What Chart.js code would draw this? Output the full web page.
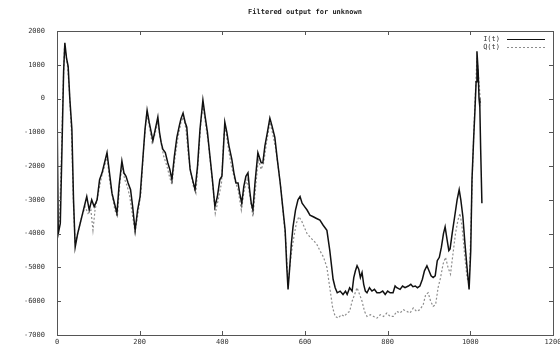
<!DOCTYPE html>
<html>
<head>
<meta charset="utf-8">
<script src="https://cdn.jsdelivr.net/npm/chart.js@4"></script>
<style>
  html, body { margin: 0; padding: 0; background: #fff; }
  #wrap { width: 560px; height: 347px; }
</style>
</head>
<body>
<div id="wrap"><canvas id="filterChart"></canvas></div>
<script>
const chartTitle = "Filtered output for unknown";
const seriesNames = ["I(t)", "Q(t)"];
const xTicks = [0, 200, 400, 600, 800, 1000, 1200];
const yTicks = [2000, 1000, 0, -1000, -2000, -3000, -4000, -5000, -6000, -7000];

// I(t) samples
const iX = [0,3,8,12,16,19,23,27,31,36,40,44,50,56,62,68,72,78,84,90,97,103,109,115,121,125,128,133,139,145,150,157,162,167,172,178,183,189,195,201,207,213,218,223,228,232,238,244,248,252,256,262,268,273,278,284,290,296,300,305,310,314,318,322,328,334,340,346,353,358,364,370,376,382,388,394,399,403,406,411,416,423,428,433,438,442,447,452,457,462,466,470,474,479,486,490,494,498,503,509,515,520,527,533,540,546,552,556,559,563,567,571,577,583,588,593,599,605,612,620,628,636,644,653,660,668,673,678,685,692,698,702,708,714,718,722,726,730,734,738,742,746,750,756,762,768,774,781,788,794,800,806,813,818,822,830,836,842,850,856,861,867,872,878,884,889,895,900,905,910,915,920,925,930,935,939,944,948,951,956,962,968,973,977,982,987,992,997,1001,1004,1008,1011,1014,1016,1019,1021,1023,1025,1028];
const iY = [0,-4000,-3700,-1500,800,1650,1200,950,0,-900,-3000,-4400,-4000,-3700,-3400,-3100,-2900,-3300,-3000,-3200,-3000,-2400,-2200,-1900,-1600,-2000,-2300,-2800,-3100,-3400,-2600,-1850,-2200,-2300,-2500,-2700,-3200,-3900,-3300,-2900,-1900,-900,-350,-700,-1000,-1250,-900,-550,-1000,-1300,-1500,-1600,-1900,-2100,-2400,-1700,-1150,-800,-600,-430,-700,-850,-1500,-2100,-2400,-2700,-2000,-900,-50,-500,-1000,-1700,-2400,-3200,-2900,-2400,-2300,-1400,-700,-1000,-1400,-1800,-2200,-2500,-2500,-2800,-3100,-2600,-2300,-2200,-2700,-3100,-3300,-2500,-1600,-1750,-1900,-1900,-1400,-1000,-580,-800,-1150,-1800,-2500,-3200,-3900,-5000,-5650,-5000,-4300,-3800,-3300,-3000,-2900,-3100,-3200,-3300,-3450,-3500,-3550,-3600,-3750,-3900,-4500,-5350,-5600,-5750,-5700,-5800,-5700,-5800,-5600,-5700,-5300,-5100,-4950,-5050,-5300,-5150,-5500,-5700,-5750,-5600,-5700,-5650,-5750,-5750,-5700,-5800,-5700,-5750,-5750,-5550,-5600,-5650,-5550,-5600,-5550,-5500,-5570,-5550,-5600,-5550,-5350,-5100,-4950,-5100,-5250,-5300,-5250,-4800,-4700,-4400,-4000,-3800,-4200,-4500,-4450,-4000,-3500,-3000,-2700,-3000,-3500,-4300,-5000,-5650,-4500,-2400,-1200,-400,500,1400,800,0,-250,-1500,-3100];

// Q(t) samples
const qX = [0,2,6,10,14,18,22,26,30,35,40,44,52,60,68,75,82,87,92,100,108,115,121,127,134,140,146,152,157,164,170,176,182,189,196,203,210,217,223,230,236,244,250,258,266,272,278,285,292,300,306,312,318,324,330,336,342,348,353,360,366,372,378,383,390,398,404,408,415,422,430,438,446,453,460,467,474,480,487,494,500,507,515,521,528,535,542,548,554,559,563,568,573,579,585,591,598,605,612,620,628,636,645,653,660,667,673,680,688,695,702,708,714,720,726,732,738,744,750,758,766,774,782,790,798,806,814,822,830,838,846,854,862,870,878,886,892,898,904,910,916,922,928,934,940,946,952,958,964,970,975,980,986,992,997,1001,1005,1009,1013,1016,1019,1022,1025];
const qY = [0,-3900,-3600,-2000,0,1500,1300,900,200,-1000,-3200,-4300,-3900,-3500,-3200,-3400,-3300,-3900,-3300,-2800,-2300,-2000,-1700,-2400,-2900,-3300,-3500,-2500,-2000,-2400,-2600,-2900,-3400,-3950,-3400,-2800,-1400,-450,-800,-1300,-1100,-700,-1200,-1700,-2000,-2300,-2550,-1800,-1200,-700,-550,-900,-1700,-2200,-2600,-2800,-1800,-700,-200,-800,-1300,-2000,-2700,-3400,-3000,-2500,-1000,-900,-1500,-2000,-2400,-2700,-3300,-2700,-2400,-2900,-3500,-2700,-1800,-2100,-1900,-1300,-700,-1000,-1400,-2000,-2700,-3500,-4300,-5500,-5000,-4500,-4100,-3700,-3500,-3600,-3800,-4000,-4100,-4200,-4300,-4500,-4700,-5000,-5600,-6200,-6450,-6500,-6400,-6450,-6350,-6300,-6000,-5800,-5600,-5800,-6000,-6300,-6450,-6400,-6450,-6500,-6400,-6450,-6350,-6450,-6450,-6300,-6350,-6250,-6300,-6350,-6200,-6300,-6250,-6100,-5800,-5750,-6000,-6150,-6100,-5600,-5300,-4900,-4700,-5000,-5200,-4600,-4000,-3600,-3400,-3800,-4600,-5300,-5500,-4000,-2200,-800,400,1200,800,300,-200];

const tickFont = { family: "DejaVu Sans Mono", size: 7 };

// frame, inward ticks, title and legend like gnuplot
const gnuFrame = {
  id: "gnuFrame",
  afterDatasetsDraw(chart) {
    const { ctx, chartArea: a, scales } = chart;
    ctx.save();
    ctx.strokeStyle = "#555";
    ctx.lineWidth = 1;
    ctx.strokeRect(a.left + 0.5, a.top + 0.5, a.right - a.left, a.bottom - a.top);
    ctx.beginPath();
    xTicks.forEach(v => {
      const px = Math.round(scales.x.getPixelForValue(v)) + 0.5;
      ctx.moveTo(px, a.bottom); ctx.lineTo(px, a.bottom - 4);
      ctx.moveTo(px, a.top); ctx.lineTo(px, a.top + 4);
    });
    yTicks.forEach(v => {
      const py = Math.round(scales.y.getPixelForValue(v)) + 0.5;
      ctx.moveTo(a.left, py); ctx.lineTo(a.left + 4, py);
      ctx.moveTo(a.right, py); ctx.lineTo(a.right - 4, py);
    });
    ctx.stroke();

    ctx.fillStyle = "#222";
    ctx.font = "bold 7px 'DejaVu Sans Mono'";
    ctx.textAlign = "center";
    ctx.textBaseline = "middle";
    ctx.fillText(chartTitle, (a.left + a.right) / 2, 12);

    ctx.font = "7px 'DejaVu Sans Mono'";
    ctx.textAlign = "right";
    chart.data.datasets.forEach((ds, i) => {
      const y = a.top + 8 + i * 8;
      ctx.fillStyle = "#333";
      ctx.fillText(ds.label, 500, y);
      ctx.strokeStyle = ds.borderColor;
      ctx.setLineDash(ds.borderDash || []);
      ctx.beginPath();
      ctx.moveTo(507, y + 0.5); ctx.lineTo(545, y + 0.5);
      ctx.stroke();
    });
    ctx.restore();
  }
};

new Chart(document.getElementById("filterChart"), {
  type: "line",
  data: {
    datasets: [
      {
        label: seriesNames[0],
        data: iX.map((x, k) => ({ x: x, y: iY[k] })),
        borderColor: "#111",
        borderWidth: 1.5,
        pointRadius: 0,
        tension: 0,
      },
      {
        label: seriesNames[1],
        data: qX.map((x, k) => ({ x: x, y: qY[k] })),
        borderColor: "rgba(0,0,0,0.45)",
        borderWidth: 1.2,
        borderDash: [2, 2],
        pointRadius: 0,
        tension: 0,
      },
    ],
  },
  options: {
    responsive: true,
    maintainAspectRatio: false,
    animation: false,
    layout: { padding: { top: 31, right: 7, bottom: 0, left: 0 } },
    scales: {
      x: {
        type: "linear",
        min: 0,
        max: 1200,
        afterBuildTicks(s) { s.ticks = xTicks.map(v => ({ value: v })); },
        afterFit(s) { s.height = 12; s.paddingLeft = 0; s.paddingRight = 0; },
        grid: { display: false, drawTicks: false },
        border: { display: false },
        ticks: { font: tickFont, color: "#333", padding: 3, maxRotation: 0, autoSkip: false, callback: v => String(v) },
      },
      y: {
        min: -7000,
        max: 2000,
        afterBuildTicks(s) { s.ticks = yTicks.map(v => ({ value: v })); },
        afterFit(s) { s.width = 57; s.paddingTop = 0; s.paddingBottom = 0; },
        grid: { display: false, drawTicks: false },
        border: { display: false },
        ticks: { font: tickFont, color: "#333", padding: 12, autoSkip: false, callback: v => String(v) },
      },
    },
    plugins: {
      legend: { display: false },
      tooltip: { enabled: false },
    },
  },
  plugins: [gnuFrame],
});
</script>
</body>
</html>
